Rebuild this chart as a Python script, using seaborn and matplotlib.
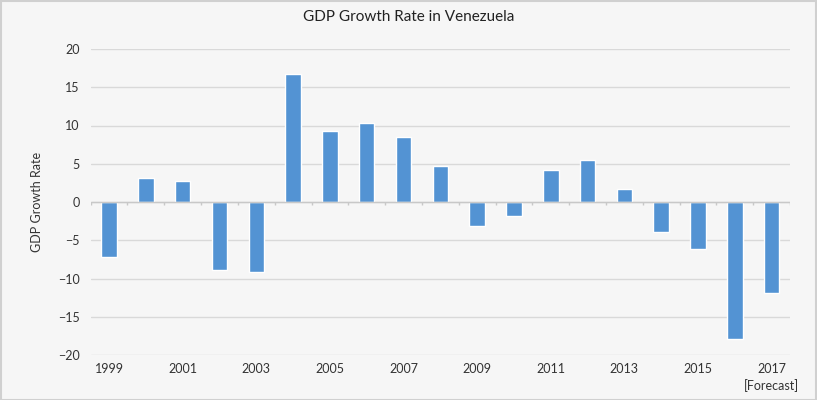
import pandas as pd
import matplotlib.pyplot as plt
import seaborn as sns

years = [str(y) for y in range(1999, 2018)]
growth = [-7.2, 3.2, 2.7, -8.9, -9.2, 16.7, 9.3, 10.3, 8.5, 4.7,
          -3.2, -1.8, 4.2, 5.5, 1.7, -3.9, -6.1, -17.9, -11.9]
tick_labels = ['1999', '', '2001', '', '2003', '', '2005', '', '2007', '',
               '2009', '', '2011', '', '2013', '', '2015', '', '2017\n[Forecast]']
y_ticks = [-20, -15, -10, -5, 0, 5, 10, 15, 20]

df = pd.DataFrame({'year': years, 'growth': growth})

sns.set_style('white')
plt.rcParams['font.family'] = ['Lato', 'DejaVu Sans']

bg = '#f6f6f6'
fig = plt.figure(figsize=(8.17, 4.0), dpi=100, facecolor=bg)
ax = fig.add_axes([0.111, 0.1125, 0.856, 0.765])
ax.set_facecolor(bg)

sns.barplot(data=df, x='year', y='growth', color='#5393d3', width=0.42,
            saturation=1, ax=ax)

ax.set_ylim(-20, 20)
ax.set_yticks(y_ticks)
ax.set_xlim(-0.5, len(years) - 0.5)
ax.set_xticks(range(len(years)))
ax.set_xticklabels(tick_labels, linespacing=1.35)
ax.tick_params(axis='both', length=0, labelsize=9, colors='#333333')
ax.tick_params(axis='x', pad=6)
ax.tick_params(axis='y', pad=8)
ax.yaxis.grid(True, color='#d9d9d9', linewidth=1)
ax.set_axisbelow(True)
for s in ax.spines.values():
    s.set_visible(False)

# zero axis with category boundary ticks
ax.axhline(0, color='#c8c8c8', linewidth=1, zorder=1)
ax.vlines([i - 0.5 for i in range(len(years) + 1)], -0.45, 0,
          color='#c8c8c8', linewidth=1, zorder=1)

ax.set_xlabel('')
ax.set_ylabel('GDP Growth Rate', fontsize=9, color='#333333', labelpad=11)

fig.suptitle('GDP Growth Rate in Venezuela', y=0.975, fontsize=11, color='#222222')

# outer border
fig.patches.append(plt.Rectangle((0.001, 0.001), 0.998, 0.997, transform=fig.transFigure,
                                 fill=False, edgecolor='#d0d0d0', linewidth=1.5))

fig.savefig('out.png', dpi=100, facecolor=bg)
